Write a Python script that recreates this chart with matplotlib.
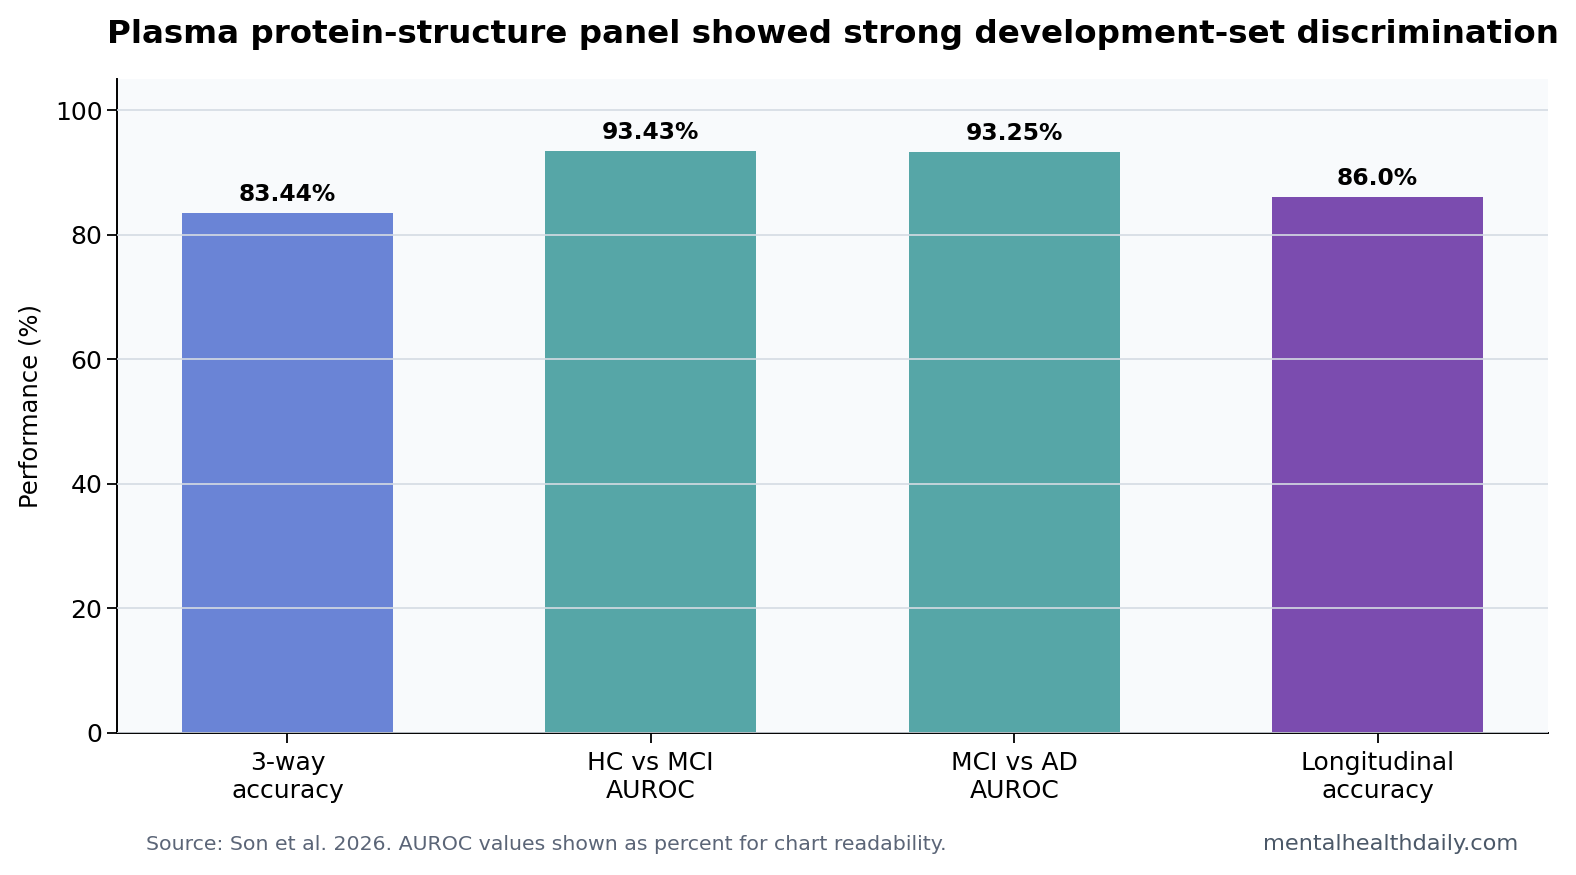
import matplotlib
matplotlib.use("Agg")
import matplotlib.pyplot as plt

categories = ["3-way\naccuracy", "HC vs MCI\nAUROC", "MCI vs AD\nAUROC", "Longitudinal\naccuracy"]
values = [83.44, 93.43, 93.25, 86.0]
labels = ["83.44%", "93.43%", "93.25%", "86.0%"]
colors = ["#6a84d6", "#56a6a7", "#56a6a7", "#7b4caf"]

W, H = 1576, 875
fig = plt.figure(figsize=(15.76, 8.75), dpi=100)
ax = fig.add_axes([117/W, 1 - 733/H, (1548-117)/W, (733-79)/H])
ax.set_facecolor("#f8fafc")
x = list(range(len(categories)))
ax.bar(x, values, width=0.58, color=colors, zorder=1)
ax.set_axisbelow(False)
ax.yaxis.grid(True, color="#d5dbe3", linewidth=1.2, zorder=2)
ax.set_ylim(0, 105)
ax.set_yticks([0, 20, 40, 60, 80, 100])
ax.set_xticks(x)
ax.set_xticklabels(categories, fontsize=18)
ax.tick_params(axis="y", labelsize=18)
ax.tick_params(axis="both", length=7, width=1.3)
ax.tick_params(axis="x", pad=6)
for s in ["top", "right"]:
    ax.spines[s].set_visible(False)
for s in ["left", "bottom"]:
    ax.spines[s].set_linewidth(1.4)
ax.set_ylabel("Performance (%)", fontsize=17.5, labelpad=9)
for xi, v, l in zip(x, values, labels):
    ax.text(xi, v + 1.2, l, ha="center", va="bottom", fontsize=16.8, fontweight="bold")
fig.text(833/W, 1 - 34/H, "Plasma protein-structure panel showed strong development-set discrimination",
         ha="center", va="center", fontsize=23.4, fontweight="bold")
fig.text(146/W, 1 - 845/H, "Source: Son et al. 2026. AUROC values shown as percent for chart readability.",
         ha="left", va="center", fontsize=14.75, color="#5b6577")
fig.text(1518/W, 1 - 844/H, "mentalhealthdaily.com", ha="right", va="center", fontsize=16.2, color="#4b5868")
fig.savefig("out.png", dpi=100, facecolor="white")
